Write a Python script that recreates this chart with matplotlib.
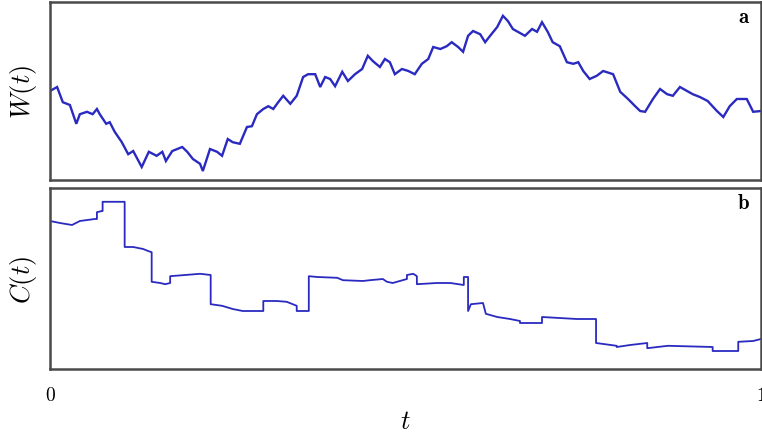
import matplotlib
matplotlib.use("Agg")
import matplotlib.pyplot as plt

plt.rcParams['mathtext.fontset'] = 'cm'
plt.rcParams['font.family'] = 'DejaVu Serif'

# Panel a: Brownian path W(t)
w_t = [0.000, 0.010, 0.018, 0.028, 0.037, 0.042, 0.052, 0.060, 0.066, 0.070,
       0.079, 0.084, 0.091, 0.101, 0.110, 0.117, 0.129, 0.139, 0.150, 0.158,
       0.163, 0.172, 0.186, 0.193, 0.201, 0.211, 0.215, 0.225, 0.235, 0.242,
       0.250, 0.257, 0.267, 0.277, 0.284, 0.291, 0.300, 0.307, 0.314, 0.321,
       0.328, 0.338, 0.347, 0.356, 0.363, 0.373, 0.380, 0.387, 0.394, 0.401,
       0.411, 0.419, 0.429, 0.439, 0.447, 0.454, 0.464, 0.471, 0.478, 0.485,
       0.495, 0.504, 0.513, 0.523, 0.532, 0.539, 0.549, 0.558, 0.565, 0.574,
       0.581, 0.588, 0.595, 0.605, 0.612, 0.619, 0.629, 0.637, 0.644, 0.651,
       0.668, 0.678, 0.685, 0.692, 0.700, 0.707, 0.717, 0.727, 0.736, 0.743,
       0.750, 0.759, 0.769, 0.778, 0.792, 0.802, 0.813, 0.823, 0.830, 0.837,
       0.848, 0.858, 0.868, 0.876, 0.886, 0.896, 0.904, 0.914, 0.925, 0.938,
       0.947, 0.956, 0.966, 0.980, 0.989, 1.000]
w_val = [0.00, 0.10, -0.28, -0.35, -0.82, -0.58, -0.52, -0.58, -0.45, -0.58,
         -0.82, -0.78, -1.02, -1.28, -1.58, -1.50, -1.90, -1.52, -1.62, -1.52,
         -1.75, -1.50, -1.40, -1.52, -1.70, -1.82, -2.00, -1.45, -1.52, -1.62,
         -1.20, -1.28, -1.32, -0.90, -0.88, -0.58, -0.45, -0.38, -0.45, -0.28,
         -0.12, -0.32, -0.12, 0.35, 0.42, 0.42, 0.10, 0.35, 0.30, 0.12,
         0.48, 0.25, 0.42, 0.55, 0.88, 0.75, 0.60, 0.80, 0.72, 0.42,
         0.55, 0.50, 0.42, 0.68, 0.80, 1.10, 1.05, 1.12, 1.22, 1.10,
         0.98, 1.38, 1.50, 1.42, 1.22, 1.38, 1.60, 1.88, 1.75, 1.55,
         1.38, 1.55, 1.48, 1.72, 1.48, 1.22, 1.12, 0.72, 0.68, 0.72,
         0.50, 0.30, 0.38, 0.50, 0.42, -0.02, -0.20, -0.38, -0.50, -0.52,
         -0.20, 0.05, -0.08, -0.12, 0.10, 0.00, -0.08, -0.15, -0.25, -0.50,
         -0.65, -0.38, -0.20, -0.20, -0.52, -0.50]

# Panel b: step-like path C(t)
c_t = [0.000, 0.014, 0.031, 0.042, 0.063, 0.066, 0.066, 0.073, 0.074, 0.074,
       0.103, 0.105, 0.105, 0.117, 0.131, 0.138, 0.143, 0.143, 0.155, 0.162,
       0.169, 0.169, 0.211, 0.226, 0.226, 0.242, 0.257, 0.271, 0.300, 0.300,
       0.319, 0.333, 0.347, 0.347, 0.364, 0.364, 0.376, 0.404, 0.412, 0.440,
       0.450, 0.468, 0.474, 0.482, 0.492, 0.502, 0.502, 0.511, 0.516, 0.516,
       0.544, 0.563, 0.582, 0.582, 0.588, 0.588, 0.592, 0.609, 0.613, 0.629,
       0.647, 0.661, 0.661, 0.692, 0.692, 0.741, 0.768, 0.768, 0.797, 0.797,
       0.816, 0.840, 0.840, 0.869, 0.932, 0.932, 0.968, 0.968, 0.989, 1.000]
c_val = [0.00, -0.05, -0.10, 0.00, 0.05, 0.05, 0.22, 0.25, 0.25, 0.48,
         0.48, 0.48, -0.65, -0.65, -0.70, -0.75, -0.78, -1.52, -1.55, -1.58,
         -1.55, -1.38, -1.32, -1.35, -2.08, -2.12, -2.20, -2.25, -2.25, -2.00,
         -2.00, -2.02, -2.12, -2.25, -2.25, -1.38, -1.40, -1.42, -1.48, -1.50,
         -1.48, -1.45, -1.52, -1.55, -1.50, -1.45, -1.35, -1.32, -1.38, -1.58,
         -1.55, -1.55, -1.60, -1.40, -1.40, -2.25, -2.08, -2.05, -2.32, -2.40,
         -2.45, -2.50, -2.55, -2.55, -2.40, -2.45, -2.45, -3.05, -3.12, -3.15,
         -3.10, -3.05, -3.18, -3.12, -3.15, -3.25, -3.25, -3.02, -3.00, -2.95]

x_ticks = [0, 1]
x_tick_labels = ['$0$', '$1$']
panel_labels = ['a', 'b']

fig = plt.figure(figsize=(7.62, 4.39), dpi=100)
ax_a = fig.add_axes([50/762, 1-181/439, 711/762, 178/439])
ax_b = fig.add_axes([50/762, 1-370/439, 711/762, 181/439])

line_color = '#2a2ac0'
spine_color = '#4a4a4a'

ax_a.plot(w_t, w_val, color=line_color, lw=1.7, solid_joinstyle='miter')
ax_a.set_ylim(-2.225, 2.225)
ax_b.plot(c_t, c_val, color=line_color, lw=1.3)
ax_b.set_ylim(-3.7, 0.825)

for ax, lab, ylab in [(ax_a, panel_labels[0], r'$W(t)$'), (ax_b, panel_labels[1], r'$C(t)$')]:
    ax.set_xlim(0, 1)
    ax.set_yticks([])
    for s in ax.spines.values():
        s.set_color(spine_color)
        s.set_linewidth(1.8)
    ax.text(0.985, 0.92, r'$\mathbf{%s}$' % lab, transform=ax.transAxes,
            ha='right', va='center', fontsize=15)
    ax.set_ylabel(ylab, fontsize=19, labelpad=8)

ax_a.set_xticks([])
ax_b.set_xticks(x_ticks)
ax_b.set_xticklabels(x_tick_labels, fontsize=14)
ax_b.tick_params(axis='x', length=0, pad=12)
ax_b.set_xlabel(r'$t$', fontsize=19, labelpad=3)

fig.savefig('out.png', dpi=100)
